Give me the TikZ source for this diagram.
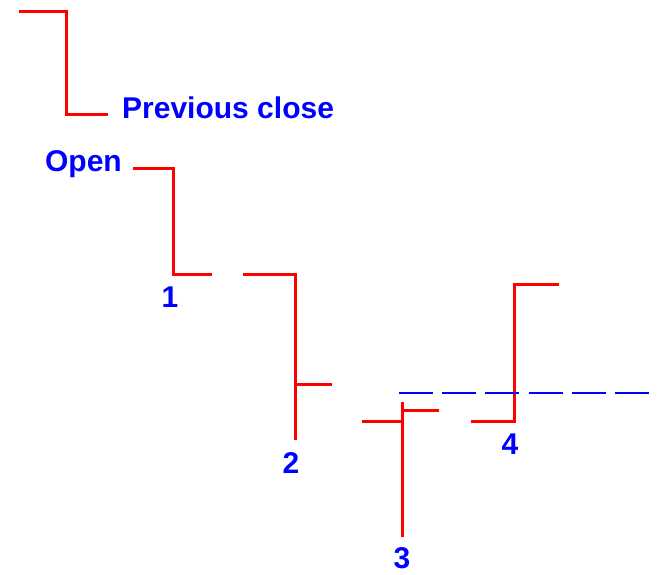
\documentclass[tikz,border=0pt]{standalone}
\usepackage{fontspec}
\setmainfont{Liberation Sans}
\usepackage{tikz}
\usetikzlibrary{positioning}

\begin{document}
\begin{tikzpicture}[
      x = 1pt, y = -1pt, % pixel grid of the chart
      bar/.style = {draw = red, line width = 3pt}, % price bar
      lbl/.style = {text = blue, inner sep = 0pt,
        font = \fontsize{30}{34}\selectfont\bfseries}, % blue labels
      level/.style = {draw = blue, line width = 1.5pt,
        dash pattern = on 34pt off 9.2pt} % dashed level
      ]

      \useasboundingbox (0,0) rectangle (658,574);

      % previous bar
      \draw[bar] (19,11) -- (66,11) -- (66,114) -- (108,114);
      \node[lbl, anchor = west] (prev) at (122,108) {Previous close};

      % bar 1
      \draw[bar] (133,168) -- (173,168) -- (173,274) -- (212,274);
      \node[lbl, anchor = east] (open) at (122,164) {Open};
      \node[lbl] (one) at (170,297) {1};

      % bar 2
      \draw[bar] (243,274) -- (295,274) -- (295,440);
      \draw[bar] (295,384) -- (332,384);
      \node[lbl] (two) at (291,463) {2};

      % bar 3
      \draw[bar] (402,402) -- (402,537);
      \draw[bar] (362,421) -- (402,421);
      \draw[bar] (402,410) -- (439,410);
      \node[lbl] (three) at (402,558) {3};

      % bar 4
      \draw[bar] (471,421) -- (514,421) -- (514,284) -- (559,284);
      \node[lbl] (four) at (510,444) {4};

      % level line
      \draw[level] (399,393) -- (649,393);

    \end{tikzpicture}
\end{document}
